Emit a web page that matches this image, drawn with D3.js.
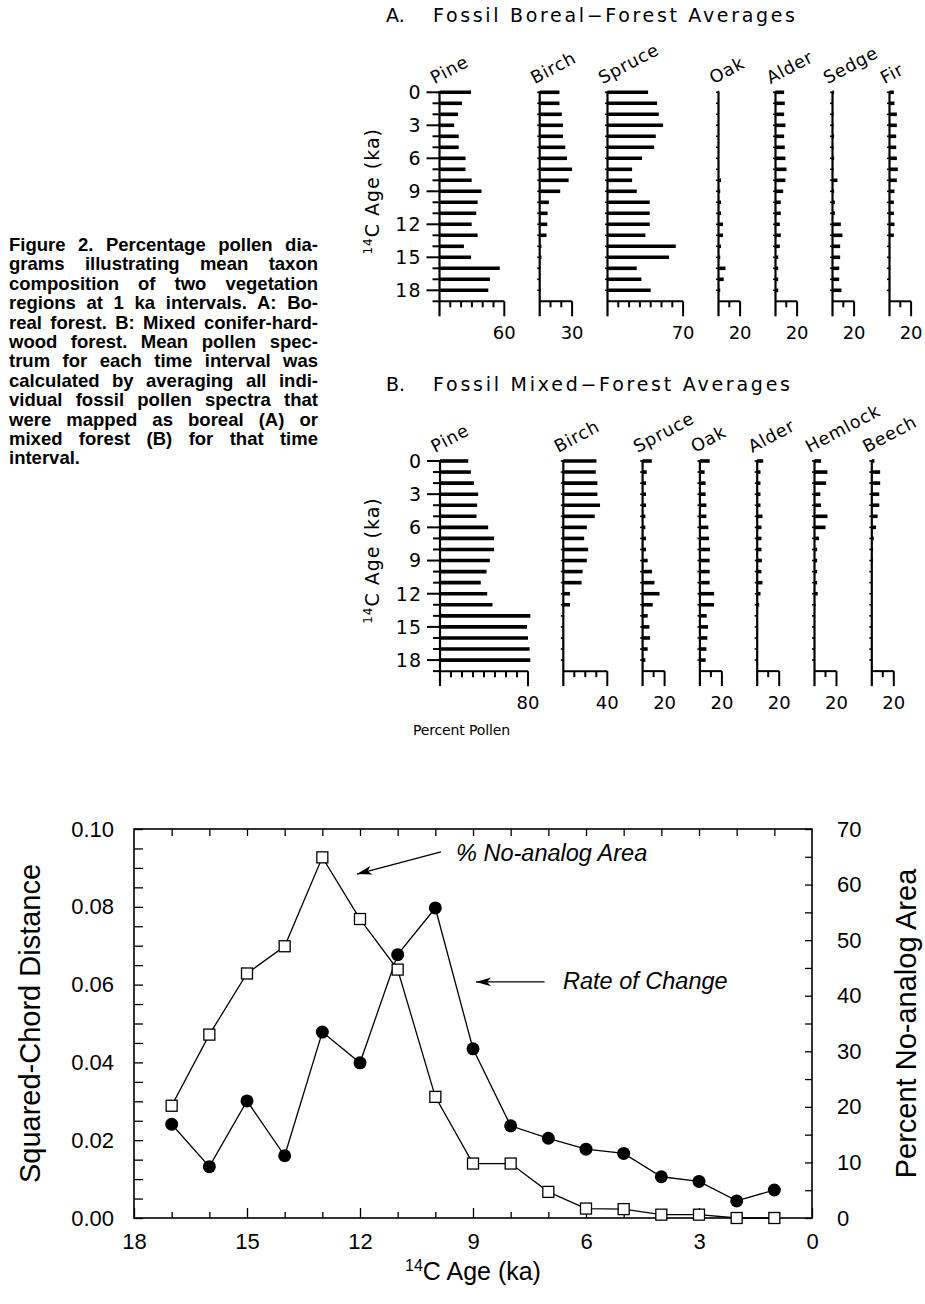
<!DOCTYPE html>
<html>
<head>
<meta charset="utf-8">
<script src="https://cdn.jsdelivr.net/npm/d3@7"></script>
<style>
  body { margin: 0; background: #fff; }
  svg { display: block; }
</style>
</head>
<body>
<svg id="fig"></svg>
<script>
// ---------------------------------------------------------------
// Data
// ---------------------------------------------------------------
const agesKa = d3.range(0, 19); // one mean spectrum per ka, 0..18

// A: fossil boreal-forest averages (percent pollen)
const borealNames = ['Pine', 'Birch', 'Spruce', 'Oak', 'Alder', 'Sedge', 'Fir'];
const borealAxisMax = [60, 30, 70, 20, 20, 20, 20];
const borealPine = [29.2, 20.8, 17.2, 13.6, 17.8, 17.8, 24.1, 24.1, 29.8, 38.9, 35.3, 34.1, 29.8, 35.3, 22.6, 29.2, 55.8, 46.7, 45.2];
const borealBirch = [18.3, 18.3, 20.5, 21.5, 21.5, 23.7, 25.3, 30, 26.8, 19, 8.5, 7.3, 7, 6.3, 1.6, 1.6, 0.6, 0.3, 1];
const borealSpruce = [37.6, 45.9, 47.5, 51.5, 44.7, 43.2, 32, 22.8, 22.8, 27.1, 39.1, 39.1, 39.1, 35.1, 63.2, 57, 27.1, 31.4, 40];
const borealOak = [0.5, 0.3, 0.3, 0.3, 0.3, 0.3, 0.3, 0.3, 2.3, 1.6, 2.3, 2.3, 4.2, 4.2, 2.3, 1.6, 6.5, 4.8, 1.6];
const borealAlder = [8, 8.6, 8, 9.2, 8, 8.6, 9.2, 10.2, 9.2, 7.1, 4.9, 4.9, 4, 4.9, 4, 2.5, 2.5, 2.5, 2.5];
const borealSedge = [1.5, 0.6, 0.9, 0.9, 1.5, 0.9, 1.5, 0.9, 4.6, 1.5, 2.2, 2.2, 7.7, 9.2, 7.1, 7.1, 6.2, 6.2, 8.3];
const borealFir = [4, 4.6, 6.8, 6.8, 6.2, 6.2, 6.8, 7.7, 6.8, 4.6, 4, 4, 4.6, 4, 0.6, 0.6, 0.6, 0.6, 0.6];

// B: fossil mixed-forest averages (percent pollen)
const mixedNames = ['Pine', 'Birch', 'Spruce', 'Oak', 'Alder', 'Hemlock', 'Beech'];
const mixedAxisMax = [80, 40, 20, 20, 20, 20, 20];
const mixedPine = [25.7, 28.1, 30.8, 34.7, 33.8, 33.2, 43.8, 49.2, 49.2, 45.3, 42.3, 37.1, 42.9, 47.7, 82.1, 79.1, 80, 81.5, 82.1];
const mixedBirch = [30.1, 29.5, 31, 31, 33.4, 28.6, 21.4, 19, 22.6, 21.4, 17.5, 16.6, 6, 6, 0.3, 0.3, 0.3, 0.3, 0.3];
const mixedSpruce = [8.3, 3.7, 3.1, 3.1, 3.1, 2.5, 2.5, 3.1, 3.1, 4.6, 8.6, 10.8, 15.4, 9.2, 4.6, 6.2, 6.8, 4.6, 2.5];
const mixedOak = [8.9, 4.3, 5.2, 5.2, 5.9, 5.9, 7.7, 8.3, 9.2, 8.9, 8.9, 8.9, 12.9, 12.9, 6.2, 7.4, 6.8, 5.9, 5.2];
const mixedAlder = [5.5, 3, 3, 3, 3, 4.8, 3.9, 3.9, 3.9, 4.2, 3.9, 4.8, 3, 1.8, 0.6, 0.6, 0.6, 0.6, 0.6];
const mixedHemlock = [6, 11.8, 10.6, 5.3, 5.9, 11.8, 10, 4.1, 2.4, 2.4, 2.4, 2.4, 2.9, 0.9, 0.5, 0.3, 0.3, 0.3, 0.3];
const mixedBeech = [2.4, 7.6, 7.6, 6.8, 6.8, 5.3, 3.8, 1.8, 1.2, 0.9, 0, 0, 0, 0, 0, 0, 0, 0, 0];

const ageTickLabels = [0, 3, 6, 9, 12, 15, 18];

// Bottom chart: rate of change and no-analog area, 17..1 ka
const changeAges = d3.range(17, 0, -1);
const rateOfChange = [0.0241, 0.0132, 0.0301, 0.016, 0.0478, 0.0399, 0.0677, 0.0797, 0.0435, 0.0237, 0.0205, 0.0177, 0.0166, 0.0106, 0.0094, 0.0044, 0.0072];
const noAnalogPct = [20.2, 33.0, 44.0, 48.9, 64.9, 53.8, 44.7, 21.8, 9.8, 9.8, 4.7, 1.7, 1.6, 0.6, 0.6, 0, 0];
const pctTicks = [0, 10, 20, 30, 40, 50, 60, 70];
const ageTicks = [18, 15, 12, 9, 6, 3, 0];

const captionLines = [
  'Figure 2. Percentage pollen dia-',
  'grams illustrating mean taxon',
  'composition of two vegetation',
  'regions at 1 ka intervals. A: Bo-',
  'real forest. B: Mixed conifer-hard-',
  'wood forest. Mean pollen spec-',
  'trum for each time interval was',
  'calculated by averaging all indi-',
  'vidual fossil pollen spectra that',
  'were mapped as boreal (A) or',
  'mixed forest (B) for that time',
  'interval.',
];

// ---------------------------------------------------------------
// Setup
// ---------------------------------------------------------------
const width = 925;
const height = 1304;
const plotterFont = '"DejaVu Sans", sans-serif';
const helv = '"Liberation Sans", Arial, sans-serif';

const svg = d3.select('#fig')
  .attr('width', width)
  .attr('height', height)
  .attr('viewBox', `0 0 ${width} ${height}`);

svg.append('rect').attr('width', width).attr('height', height).attr('fill', '#fff');

// ---------------------------------------------------------------
// Caption (justified bold text on the left)
// ---------------------------------------------------------------
const caption = svg.append('g')
  .attr('font-family', helv)
  .attr('font-weight', 'bold')
  .attr('font-size', 18.5);

captionLines.forEach((line, i) => {
  const t = caption.append('text')
    .attr('x', 9)
    .attr('y', 251 + i * 19.4)
    .text(line);
  if (i < captionLines.length - 1) {
    const w = t.node().getComputedTextLength();
    const spaces = (line.match(/ /g) || []).length;
    if (spaces) t.style('word-spacing', `${(309 - w) / spaces}px`);
  }
});

// ---------------------------------------------------------------
// Pollen percentage panels
// ---------------------------------------------------------------
function drawPollenPanel(cfg) {
  const g = svg.append('g')
    .attr('font-family', plotterFont)
    .attr('fill', '#000');

  // age scale (ka down the page)
  const y = d3.scaleLinear().domain([0, 19]).range([cfg.top, cfg.top + 19 * cfg.kaPx]);
  const yEnd = y(19);

  // one x scale per taxon, all sharing the same px-per-percent
  let offset = cfg.x0;
  const taxa = cfg.names.map((name, i) => {
    const x = d3.scaleLinear()
      .domain([0, cfg.axisMax[i]])
      .range([offset, offset + cfg.axisMax[i] * cfg.pctPx]);
    offset = x.range()[1] + cfg.gap;
    return { name, x, max: cfg.axisMax[i], values: cfg.values[i] };
  });

  // title
  g.append('text')
    .attr('x', 386)
    .attr('y', cfg.titleY)
    .attr('font-size', 19)
    .text(cfg.letter);
  g.append('text')
    .attr('x', 433)
    .attr('y', cfg.titleY)
    .attr('font-size', 19)
    .attr('textLength', cfg.titleLen)
    .attr('lengthAdjust', 'spacing')
    .text(cfg.title);

  // vertical age label
  const midY = (y(0) + y(18)) / 2;
  const ageLabel = g.append('text')
    .attr('transform', `translate(379, ${midY}) rotate(-90)`)
    .attr('text-anchor', 'middle')
    .attr('font-size', 19)
    .attr('letter-spacing', 1);
  ageLabel.append('tspan').attr('font-size', 12).attr('dy', -7).text('14');
  ageLabel.append('tspan').attr('dy', 7).text('C Age  (ka)');

  // age ticks and labels on the first taxon
  const x0 = taxa[0].x(0);
  g.selectAll('.age-tick')
    .data(d3.range(0, 20))
    .join('line')
    .attr('x1', (d) => (ageTickLabels.includes(d) ? x0 - 13 : x0 - 7))
    .attr('x2', x0)
    .attr('y1', (d) => y(d))
    .attr('y2', (d) => y(d))
    .attr('stroke', '#000')
    .attr('stroke-width', 2);

  g.selectAll('.age-label')
    .data(ageTickLabels)
    .join('text')
    .attr('x', x0 - 18)
    .attr('y', (d) => y(d))
    .attr('dy', '0.36em')
    .attr('text-anchor', 'end')
    .attr('font-size', 19)
    .attr('letter-spacing', 1)
    .text((d) => d);

  taxa.forEach((t, ti) => {
    const tg = g.append('g');
    const xa = t.x(0);

    // small age marks on the other taxa
    if (ti > 0) {
      tg.selectAll('line.mark')
        .data(agesKa)
        .join('line')
        .attr('x1', xa - 2.5)
        .attr('x2', xa)
        .attr('y1', (d) => y(d))
        .attr('y2', (d) => y(d))
        .attr('stroke', '#000')
        .attr('stroke-width', 1.6);
    }

    // bars
    tg.selectAll('line.bar')
      .data(t.values)
      .join('line')
      .attr('x1', xa)
      .attr('x2', (v) => t.x(v))
      .attr('y1', (v, i) => y(agesKa[i]))
      .attr('y2', (v, i) => y(agesKa[i]))
      .attr('stroke', '#000')
      .attr('stroke-width', 3.6);

    // vertical axis
    tg.append('line')
      .attr('x1', xa).attr('x2', xa)
      .attr('y1', y(0) - 1).attr('y2', yEnd + 15)
      .attr('stroke', '#000').attr('stroke-width', 2.2);

    // percent axis
    tg.append('line')
      .attr('x1', xa).attr('x2', t.x(t.max))
      .attr('y1', yEnd).attr('y2', yEnd)
      .attr('stroke', '#000').attr('stroke-width', 2);
    tg.selectAll('line.pct')
      .data(d3.range(10, t.max + 1, 10))
      .join('line')
      .attr('x1', (d) => t.x(d))
      .attr('x2', (d) => t.x(d))
      .attr('y1', yEnd)
      .attr('y2', (d) => (d === t.max ? yEnd + 15 : yEnd + 6))
      .attr('stroke', '#000')
      .attr('stroke-width', 2);
    tg.append('text')
      .attr('x', t.x(t.max))
      .attr('y', yEnd + 38)
      .attr('text-anchor', 'middle')
      .attr('font-size', 18)
      .text(t.max);

    // taxon name
    tg.append('text')
      .attr('transform', `translate(${xa - 5}, ${y(0) - 8}) rotate(-28)`)
      .attr('font-size', 17.5)
      .attr('letter-spacing', 0.8)
      .text(t.name);
  });

  if (cfg.footer) {
    g.append('text')
      .attr('x', 413)
      .attr('y', yEnd + 64)
      .attr('font-size', 14)
      .attr('textLength', 97)
      .attr('lengthAdjust', 'spacing')
      .text(cfg.footer);
  }
}

drawPollenPanel({
  letter: 'A.',
  title: 'Fossil Boreal\u2212Forest Averages',
  titleY: 22,
  titleLen: 362,
  top: 92.3,
  kaPx: 11.0,
  x0: 439.5,
  pctPx: 1.08,
  gap: 35.4,
  names: borealNames,
  axisMax: borealAxisMax,
  values: [borealPine, borealBirch, borealSpruce, borealOak, borealAlder, borealSedge, borealFir],
});

drawPollenPanel({
  letter: 'B.',
  title: 'Fossil Mixed\u2212Forest Averages',
  titleY: 391,
  titleLen: 357,
  top: 461,
  kaPx: 11.06,
  x0: 440,
  pctPx: 1.1,
  gap: 35.3,
  names: mixedNames,
  axisMax: mixedAxisMax,
  values: [mixedPine, mixedBirch, mixedSpruce, mixedOak, mixedAlder, mixedHemlock, mixedBeech],
  footer: 'Percent Pollen',
});

// ---------------------------------------------------------------
// Rate of change / no-analog area chart
// ---------------------------------------------------------------
const box = { left: 134, right: 812, top: 829, bottom: 1218 };

const xScale = d3.scaleLinear().domain([18, 0]).range([box.left, box.right]);
const yDist = d3.scaleLinear().domain([0, 0.1]).range([box.bottom, box.top]);
const yPct = d3.scaleLinear().domain([0, 70]).range([box.bottom, box.top]);

const chart = svg.append('g').attr('font-family', helv);

// Left axis: minor every 0.005, labels every 0.02.
const leftAxis = d3.axisLeft(yDist)
  .tickValues(d3.range(0, 21).map((i) => i * 0.005))
  .tickSizeInner(-9)
  .tickSizeOuter(0)
  .tickPadding(20)
  .tickFormat((d) => (Math.round(d * 1000) % 20 === 0 ? d3.format('.2f')(d) : ''));
chart.append('g')
  .attr('transform', `translate(${box.left},0)`)
  .call(leftAxis);

// Right axis: minor every 5, labels every 10.
const rightAxis = d3.axisRight(yPct)
  .tickValues(d3.range(0, 71, 5))
  .tickSizeInner(-7)
  .tickSizeOuter(0)
  .tickPadding(25)
  .tickFormat((d) => (pctTicks.includes(d) ? d : ''));
chart.append('g')
  .attr('transform', `translate(${box.right},0)`)
  .call(rightAxis);

// Bottom axis: a tick every ka, longer at the labelled ones.
const bottomAxis = d3.axisBottom(xScale)
  .tickValues(d3.range(0, 19))
  .tickSizeInner(-6)
  .tickSizeOuter(0)
  .tickPadding(15)
  .tickFormat((d) => (ageTicks.includes(d) ? d : ''));
const gBottom = chart.append('g')
  .attr('transform', `translate(0,${box.bottom})`)
  .call(bottomAxis);
gBottom.selectAll('.tick line').attr('y2', (d) => (ageTicks.includes(d) ? -10 : -6));

// Top axis: plain inward ticks.
const topAxis = d3.axisTop(xScale)
  .tickValues(d3.range(1, 18))
  .tickSizeInner(-7)
  .tickSizeOuter(0)
  .tickFormat('');
chart.append('g')
  .attr('transform', `translate(0,${box.top})`)
  .call(topAxis);

chart.selectAll('.domain').remove();
chart.selectAll('.tick line').attr('stroke', '#000').attr('stroke-width', 1.3);
chart.selectAll('.tick text').attr('font-size', 22).attr('fill', '#000');

chart.append('rect')
  .attr('x', box.left)
  .attr('y', box.top)
  .attr('width', box.right - box.left)
  .attr('height', box.bottom - box.top)
  .attr('fill', 'none')
  .attr('stroke', '#000')
  .attr('stroke-width', 1.6);

// Axis titles
chart.append('text')
  .attr('transform', `translate(40, ${(box.top + box.bottom) / 2}) rotate(-90)`)
  .attr('text-anchor', 'middle')
  .attr('font-size', 29)
  .text('Squared-Chord Distance');

chart.append('text')
  .attr('transform', `translate(916, ${(box.top + box.bottom) / 2}) rotate(-90)`)
  .attr('text-anchor', 'middle')
  .attr('font-size', 29)
  .text('Percent No-analog Area');

const xTitle = chart.append('text')
  .attr('x', (box.left + box.right) / 2)
  .attr('y', 1280)
  .attr('text-anchor', 'middle')
  .attr('font-size', 25);
xTitle.append('tspan').attr('font-size', 16).attr('dy', -9).text('14');
xTitle.append('tspan').attr('dy', 9).text('C Age (ka)');

// Series
const rateData = changeAges.map((a, i) => ({ age: a, v: rateOfChange[i] }));
const pctData = changeAges.map((a, i) => ({ age: a, v: noAnalogPct[i] }));

chart.append('path')
  .datum(rateData)
  .attr('d', d3.line().x((d) => xScale(d.age)).y((d) => yDist(d.v)))
  .attr('fill', 'none')
  .attr('stroke', '#000')
  .attr('stroke-width', 1.3);

chart.selectAll('circle.rate')
  .data(rateData)
  .join('circle')
  .attr('cx', (d) => xScale(d.age))
  .attr('cy', (d) => yDist(d.v))
  .attr('r', 6.5)
  .attr('fill', '#000');

chart.append('path')
  .datum(pctData)
  .attr('d', d3.line().x((d) => xScale(d.age)).y((d) => yPct(d.v)))
  .attr('fill', 'none')
  .attr('stroke', '#000')
  .attr('stroke-width', 1.3);

chart.selectAll('rect.pct')
  .data(pctData)
  .join('rect')
  .attr('x', (d) => xScale(d.age) - 5.5)
  .attr('y', (d) => yPct(d.v) - 5.5)
  .attr('width', 11)
  .attr('height', 11)
  .attr('fill', '#fff')
  .attr('stroke', '#000')
  .attr('stroke-width', 1.3);

// Annotations with arrows
svg.append('defs').append('marker')
  .attr('id', 'arrow')
  .attr('markerUnits', 'userSpaceOnUse')
  .attr('markerWidth', 16)
  .attr('markerHeight', 10)
  .attr('refX', 15)
  .attr('refY', 5)
  .attr('orient', 'auto')
  .append('path')
  .attr('d', 'M0,0.5 L15,5 L0,9.5 L4,5 Z')
  .attr('fill', '#000');

chart.append('line')
  .attr('x1', xScale(9.85)).attr('y1', yPct(65.9))
  .attr('x2', xScale(12.08)).attr('y2', yPct(61.9))
  .attr('stroke', '#000').attr('stroke-width', 1.3)
  .attr('marker-end', 'url(#arrow)');

chart.append('text')
  .attr('x', xScale(9.45))
  .attr('y', yPct(64.2))
  .attr('font-size', 23.5)
  .attr('font-style', 'italic')
  .text('% No-analog Area');

chart.append('line')
  .attr('x1', xScale(7.1)).attr('y1', yDist(0.0607))
  .attr('x2', xScale(8.92)).attr('y2', yDist(0.0607))
  .attr('stroke', '#000').attr('stroke-width', 1.3)
  .attr('marker-end', 'url(#arrow)');

chart.append('text')
  .attr('x', xScale(6.61))
  .attr('y', yDist(0.0589))
  .attr('font-size', 23.5)
  .attr('font-style', 'italic')
  .text('Rate of Change');
</script>
</body>
</html>
